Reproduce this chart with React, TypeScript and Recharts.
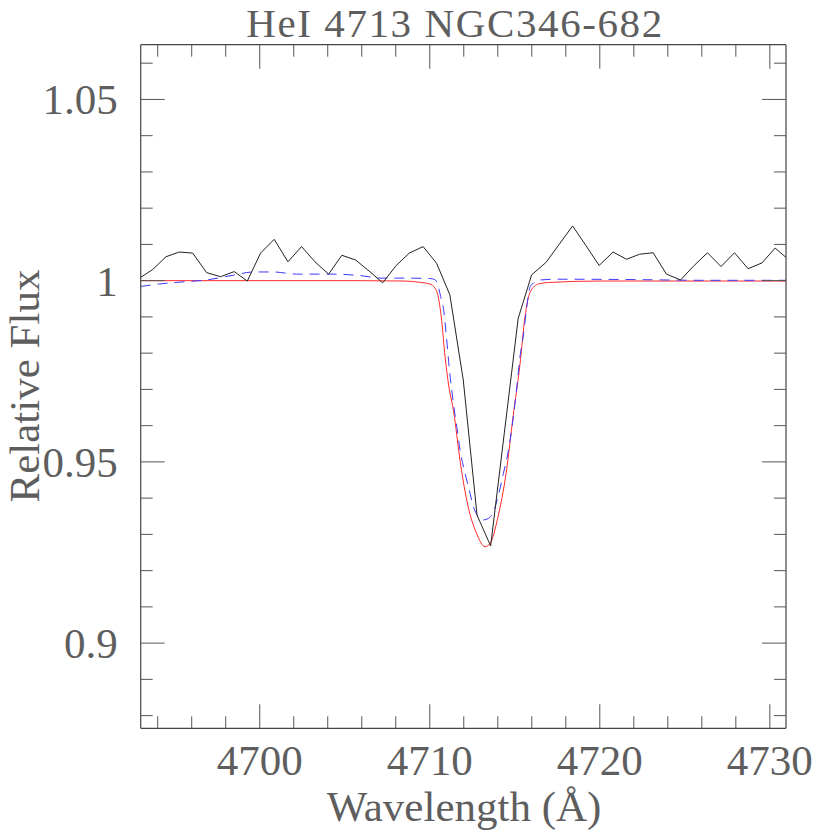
import React from "react";
import { LineChart, Line, XAxis, YAxis } from "recharts";

// ---- data ----
const obsWave = [4693.0, 4693.71, 4694.49, 4695.27, 4696.06, 4696.88, 4697.7, 4698.5, 4699.27, 4700.05, 4700.85, 4701.66, 4702.46, 4703.25, 4704.05, 4704.83, 4705.64, 4706.42, 4707.23, 4708.01, 4708.79, 4709.61, 4710.4, 4711.18, 4711.97, 4712.78, 4713.58, 4714.39, 4715.2, 4715.99, 4716.83, 4717.61, 4718.4, 4719.18, 4719.96, 4720.78, 4721.57, 4722.35, 4723.14, 4723.92, 4724.75, 4725.53, 4726.33, 4727.13, 4727.92, 4728.72, 4729.54, 4730.31, 4731.1];
const obsFlux = [1.0009, 1.0031, 1.0066, 1.0079, 1.0076, 1.0022, 1.0011, 1.0025, 0.9999, 1.0076, 1.0114, 1.0052, 1.0094, 1.0052, 1.0018, 1.007, 1.0057, 1.0027, 0.9994, 1.0041, 1.0076, 1.0094, 1.0048, 0.9961, 0.9726, 0.9353, 0.9268, 0.9582, 0.9896, 1.0016, 1.005, 1.01, 1.0151, 1.0097, 1.0042, 1.0079, 1.0059, 1.0073, 1.0077, 1.0018, 1.0002, 1.0041, 1.0077, 1.0039, 1.0077, 1.0033, 1.0049, 1.009, 1.0058];

const modelWave = [4693, 4706, 4708.5, 4709.5, 4710.0, 4710.3, 4710.5, 4710.7, 4710.9, 4711.1, 4711.4, 4711.8, 4712.25, 4712.75, 4713.25, 4713.55, 4714.0, 4714.5, 4714.9, 4715.3, 4715.6, 4715.9, 4716.4, 4717.0, 4720, 4731];
const modelFlux = [1.0, 1.0, 0.9999, 0.9995, 0.9991, 0.998, 0.9955, 0.989, 0.979, 0.9715, 0.964, 0.9497, 0.9378, 0.9303, 0.9266, 0.9275, 0.9346, 0.9472, 0.9625, 0.9767, 0.99, 0.9968, 0.9991, 0.9995, 0.9999, 0.9999];

const fitWave = [4693, 4694.13, 4695.31, 4696.88, 4698.44, 4699.62, 4700.8, 4702.17, 4704.13, 4706.09, 4707.07, 4708.5, 4710.0, 4710.3, 4710.5, 4710.64, 4710.79, 4710.98, 4711.14, 4711.39, 4711.59, 4711.78, 4712.08, 4712.37, 4712.57, 4712.86, 4713.16, 4713.45, 4713.75, 4714.04, 4714.33, 4714.63, 4714.89, 4715.12, 4715.32, 4715.52, 4715.68, 4715.91, 4716.11, 4716.5, 4717.5, 4722, 4726, 4731];
const fitFlux = [0.9984, 0.9991, 0.9996, 1.0002, 1.0015, 1.0024, 1.0024, 1.0018, 1.0018, 1.0013, 1.0007, 1.0007, 1.0006, 1.0003, 0.9984, 0.9956, 0.9928, 0.9845, 0.9762, 0.9661, 0.9597, 0.9533, 0.9468, 0.9413, 0.9376, 0.9349, 0.934, 0.9344, 0.9363, 0.9409, 0.9468, 0.9533, 0.9615, 0.9707, 0.9795, 0.9854, 0.9919, 0.9984, 0.9993, 1.0002, 1.0004, 1.0003, 1.0001, 1.0001];

const xTicks = [4694, 4696, 4698, 4700, 4702, 4704, 4706, 4708, 4710, 4712, 4714, 4716, 4718, 4720, 4722, 4724, 4726, 4728, 4730];
const xMajor = [4700, 4710, 4720, 4730];
const xMajorLabels = ["4700", "4710", "4720", "4730"];
const yTicks = [0.88, 0.89, 0.9, 0.91, 0.92, 0.93, 0.94, 0.95, 0.96, 0.97, 0.98, 0.99, 1.0, 1.01, 1.02, 1.03, 1.04, 1.05, 1.06];
const yMajor = [0.9, 0.95, 1.0, 1.05];
const yMajorLabels = ["0.9", "0.95", "1", "1.05"];

const xDomain = [4693.0, 4730.95];
const yDomain = [0.8765, 1.0651];

const title = "HeI 4713 NGC346-682";
const xLabel = "Wavelength (Å)";
const yLabel = "Relative Flux";

const obsData = obsWave.map((w, i) => ({ w, f: obsFlux[i] }));
const modelData = modelWave.map((w, i) => ({ w, f: modelFlux[i] }));
const fitData = fitWave.map((w, i) => ({ w, f: fitFlux[i] }));

// ---- styles ----
const FONT = "'Liberation Serif', serif";
const FS = 43;
const TXT = "#5e5e5e";
const TICK = "#555";
const FRAME = "#444";
const MAJ = 24;
const MIN = 12;

const majorIdx = (v: number, arr: number[]) => arr.findIndex((m) => Math.abs(m - v) < 1e-6);

const BottomTick = (p: any) => {
  const { x, y, payload } = p;
  const i = majorIdx(payload.value, xMajor);
  return (
    <g>
      <line x1={x} x2={x} y1={y} y2={y - (i >= 0 ? MAJ : MIN)} stroke={TICK} strokeWidth={1} />
      {i >= 0 && (
        <text x={x} y={y + 47} textAnchor="middle" fontFamily={FONT} fontSize={FS} fill={TXT}>
          {xMajorLabels[i]}
        </text>
      )}
    </g>
  );
};

const TopTick = (p: any) => {
  const { x, y, payload } = p;
  const i = majorIdx(payload.value, xMajor);
  return <line x1={x} x2={x} y1={y} y2={y + (i >= 0 ? MAJ : MIN)} stroke={TICK} strokeWidth={1} />;
};

const LeftTick = (p: any) => {
  const { x, y, payload } = p;
  const i = majorIdx(payload.value, yMajor);
  return (
    <g>
      <line x1={x} x2={x + (i >= 0 ? MAJ : MIN)} y1={y} y2={y} stroke={TICK} strokeWidth={1} />
      {i >= 0 && (
        <text x={x - 23} y={y + 15} textAnchor="end" fontFamily={FONT} fontSize={FS} fill={TXT}>
          {yMajorLabels[i]}
        </text>
      )}
    </g>
  );
};

const RightTick = (p: any) => {
  const { x, y, payload } = p;
  const i = majorIdx(payload.value, yMajor);
  return <line x1={x} x2={x - (i >= 0 ? MAJ : MIN)} y1={y} y2={y} stroke={TICK} strokeWidth={1} />;
};

export default function App() {
  return (
    <div style={{ position: "absolute", left: 0, top: 0, width: 830, height: 830, background: "#fff" }}>
      <LineChart
        width={830}
        height={830}
        margin={{ top: 34.7, right: 34, bottom: 71.7, left: 80.7 }}
      >
        <XAxis
          xAxisId="b"
          type="number"
          dataKey="w"
          domain={xDomain}
          allowDataOverflow
          ticks={xTicks}
          interval={0}
          height={30}
          tickSize={0}
          tickMargin={0}
          tick={<BottomTick />}
          tickLine={false}
          axisLine={{ stroke: FRAME, strokeWidth: 1.2 }}
        />
        <XAxis
          xAxisId="t"
          orientation="top"
          type="number"
          dataKey="w"
          domain={xDomain}
          allowDataOverflow
          ticks={xTicks}
          interval={0}
          height={10}
          tickSize={0}
          tickMargin={0}
          tick={<TopTick />}
          tickLine={false}
          axisLine={{ stroke: FRAME, strokeWidth: 1.2 }}
        />
        <YAxis
          yAxisId="l"
          type="number"
          dataKey="f"
          domain={yDomain}
          allowDataOverflow
          ticks={yTicks}
          interval={0}
          width={60}
          tickSize={0}
          tickMargin={0}
          tick={<LeftTick />}
          tickLine={false}
          axisLine={{ stroke: FRAME, strokeWidth: 1.2 }}
        />
        <YAxis
          yAxisId="r"
          orientation="right"
          type="number"
          dataKey="f"
          domain={yDomain}
          allowDataOverflow
          ticks={yTicks}
          interval={0}
          width={10}
          tickSize={0}
          tickMargin={0}
          tick={<RightTick />}
          tickLine={false}
          axisLine={{ stroke: FRAME, strokeWidth: 1.2 }}
        />
        <Line xAxisId="b" yAxisId="l" data={modelData} dataKey="f" type="monotone" stroke="#ff2a2a" strokeWidth={1} dot={false} isAnimationActive={false} />
        <Line xAxisId="b" yAxisId="l" data={fitData} dataKey="f" type="monotone" stroke="#3a3aff" strokeWidth={1} strokeDasharray="10 7" dot={false} isAnimationActive={false} />
        <Line xAxisId="b" yAxisId="l" data={obsData} dataKey="f" type="linear" stroke="#222" strokeWidth={1} dot={false} isAnimationActive={false} />
        <Line xAxisId="t" yAxisId="r" data={obsData} dataKey="f" type="linear" stroke="none" dot={false} isAnimationActive={false} />
      </LineChart>
      <svg width={830} height={830} style={{ position: "absolute", left: 0, top: 0, pointerEvents: "none" }}>
        <text x={455} y={37} textAnchor="middle" fontFamily={FONT} fontSize={41} letterSpacing={1.6} fill={TXT}>{title}</text>
        <text x={464} y={821} textAnchor="middle" fontFamily={FONT} fontSize={FS} fill={TXT}>{xLabel}</text>
        <text x={39} y={386} textAnchor="middle" fontFamily={FONT} fontSize={FS} fill={TXT} transform="rotate(-90 39 386)">{yLabel}</text>
      </svg>
    </div>
  );
}
